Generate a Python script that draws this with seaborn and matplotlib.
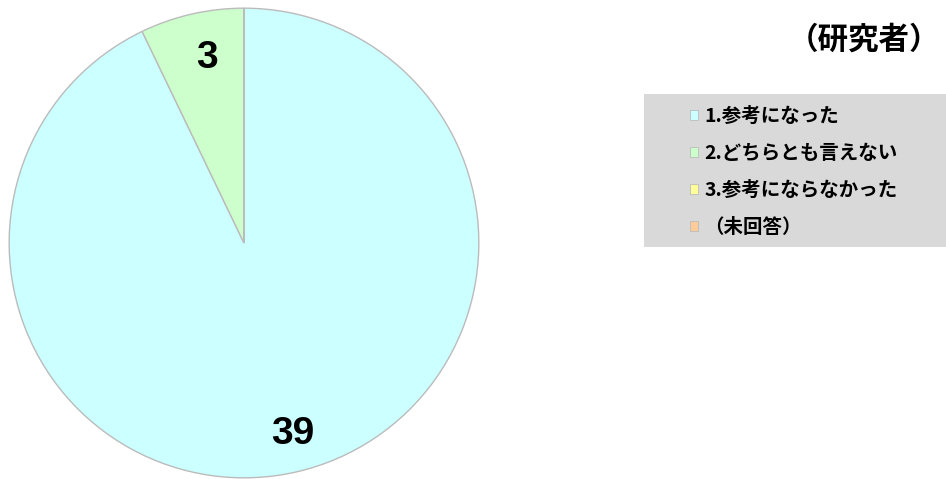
import matplotlib
matplotlib.use('Agg')
import matplotlib.pyplot as plt
import matplotlib.transforms as mtransforms
from matplotlib.patches import Rectangle
import seaborn as sns

# データ
labels = ['1.参考になった', '2.どちらとも言えない', '3.参考にならなかった', '（未回答）']
counts = [39, 3, 0, 0]
colors = ['#CCFFFF', '#CCFFCC', '#FFFF99', '#FFCC99']
title = '（研究者）'

sns.set_theme(style='white')
plt.rcParams['font.family'] = ['Noto Sans CJK JP', 'DejaVu Sans']
plt.rcParams['text.color'] = 'black'

fig = plt.figure(figsize=(9.46, 4.79), dpi=100)
ax = fig.add_axes([8 / 946, 0.0, 472 / 946, 472 / 479])

value_labels = [str(c) if c > 0 else '' for c in counts]
wedges, texts = ax.pie(
    counts, colors=colors, startangle=90, counterclock=False,
    labels=value_labels, labeldistance=0.82, radius=0.995,
    wedgeprops={'edgecolor': '#BBBBBB', 'linewidth': 1.0},
    textprops={'fontsize': 28, 'fontweight': 'bold', 'color': 'black',
               'ha': 'center', 'va': 'center', 'family': ['Liberation Sans', 'DejaVu Sans']},
)
# 数値ラベルを少し右下へ
shift = mtransforms.ScaledTranslation(6 / 100, -3 / 100, fig.dpi_scale_trans)
for t in texts:
    t.set_transform(t.get_transform() + shift)

ax.set_xlim(-1, 1)
ax.set_ylim(-1, 1)
ax.set_aspect('equal')
ax.axis('off')

# 凡例の背景
fig.patches.append(Rectangle((644 / 946, 1 - 247 / 479), 302 / 946, 153 / 479,
                             transform=fig.transFigure, facecolor='#D9D9D9',
                             edgecolor='none', zorder=0))
leg = fig.legend(wedges, labels, loc='center left',
                 bbox_to_anchor=(680 / 946, 1 - 172 / 479),
                 frameon=False, prop={'weight': 'bold', 'size': 14},
                 handlelength=0.45, handleheight=0.45, handletextpad=0.3,
                 labelspacing=0.92, borderpad=0)
for h in leg.legend_handles:
    h.set_edgecolor('#BBBBBB')
    h.set_linewidth(0.6)
for t in leg.get_texts():
    t.set_color('black')

fig.text(940 / 946, 1 - 40 / 479, title, ha='right', va='center',
         fontsize=22, fontweight='bold', color='black')

fig.savefig('out.png', dpi=100)
